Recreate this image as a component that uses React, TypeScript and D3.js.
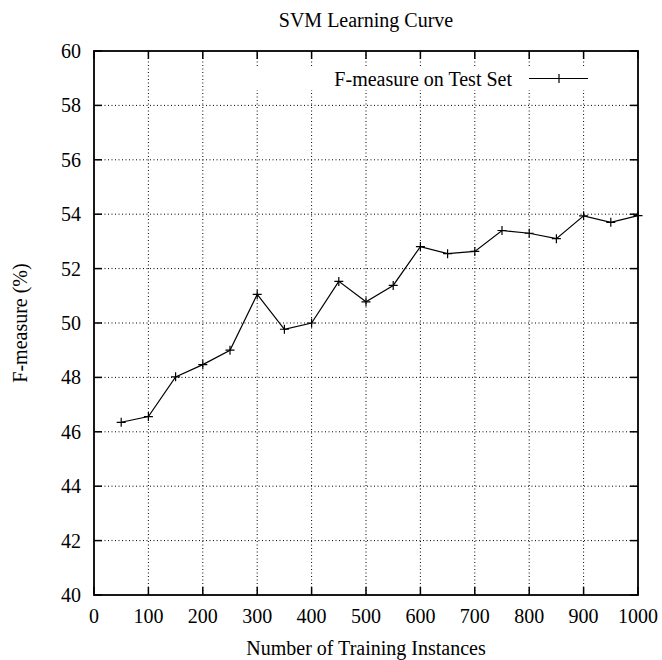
import React, { useEffect, useRef } from "react"
import * as d3 from "d3"

const W = 662
const H = 660
const margin = { top: 51, right: 24, bottom: 65, left: 94 }

// training set size vs F-measure
const trainingSizes = [50, 100, 150, 200, 250, 300, 350, 400, 450, 500, 550, 600, 650, 700, 750, 800, 850, 900, 950, 1000]
const fMeasure = [46.35, 46.56, 48.02, 48.47, 49.0, 51.05, 49.77, 50.0, 51.53, 50.78, 51.38, 52.81, 52.55, 52.63, 53.4, 53.3, 53.1, 53.94, 53.7, 53.95]

const xTicks = [0, 100, 200, 300, 400, 500, 600, 700, 800, 900, 1000]
const yTicks = [40, 42, 44, 46, 48, 50, 52, 54, 56, 58, 60]

const title = "SVM Learning Curve"
const xLabel = "Number of Training Instances"
const yLabel = "F-measure (%)"
const legendLabel = "F-measure on Test Set"

const FONT = "'Liberation Serif', 'Times New Roman', serif"

export default function App() {
  const ref = useRef<SVGSVGElement>(null)

  useEffect(() => {
    const svg = d3.select(ref.current)
    svg.selectAll("*").remove()

    const iw = W - margin.left - margin.right
    const ih = H - margin.top - margin.bottom

    const x = d3.scaleLinear().domain([0, 1000]).range([0, iw])
    const y = d3.scaleLinear().domain([40, 60]).range([ih, 0])

    const g = svg.append("g").attr("transform", `translate(${margin.left},${margin.top})`)

    // dotted grid
    const grid = g.append("g").attr("stroke", "#000").attr("stroke-width", 1).attr("stroke-dasharray", "1,2.5")
    xTicks.slice(1, -1).forEach((t) => {
      grid.append("line").attr("x1", x(t)).attr("x2", x(t)).attr("y1", 0).attr("y2", ih)
    })
    yTicks.slice(1, -1).forEach((t) => {
      grid.append("line").attr("x1", 0).attr("x2", iw).attr("y1", y(t)).attr("y2", y(t))
    })

    // legend box blanks the grid behind it
    g.append("rect")
      .attr("x", 156)
      .attr("y", 16)
      .attr("width", 352)
      .attr("height", 23)
      .attr("fill", "#fff")

    // tick marks, inward on all four sides
    const ticks = g.append("g").attr("stroke", "#000").attr("stroke-width", 1.5)
    const tl = 8
    xTicks.forEach((t) => {
      ticks.append("line").attr("x1", x(t)).attr("x2", x(t)).attr("y1", ih).attr("y2", ih - tl)
      ticks.append("line").attr("x1", x(t)).attr("x2", x(t)).attr("y1", 0).attr("y2", tl)
    })
    yTicks.forEach((t) => {
      ticks.append("line").attr("x1", 0).attr("x2", tl).attr("y1", y(t)).attr("y2", y(t))
      ticks.append("line").attr("x1", iw).attr("x2", iw - tl).attr("y1", y(t)).attr("y2", y(t))
    })

    // frame
    g.append("rect")
      .attr("width", iw)
      .attr("height", ih)
      .attr("fill", "none")
      .attr("stroke", "#000")
      .attr("stroke-width", 1.8)

    // tick labels
    g.selectAll(".xl")
      .data(xTicks)
      .enter()
      .append("text")
      .attr("x", (d) => x(d))
      .attr("y", ih + 28)
      .attr("text-anchor", "middle")
      .attr("font-family", FONT)
      .attr("font-size", 20)
      .text((d) => d)

    g.selectAll(".yl")
      .data(yTicks)
      .enter()
      .append("text")
      .attr("x", -13)
      .attr("y", (d) => y(d) + 7)
      .attr("text-anchor", "end")
      .attr("font-family", FONT)
      .attr("font-size", 20)
      .text((d) => d)

    // data line + markers
    const pts: [number, number][] = trainingSizes.map((s, i) => [s, fMeasure[i]])
    const line = d3
      .line<[number, number]>()
      .x((d) => x(d[0]))
      .y((d) => y(d[1]))
    g.append("path")
      .datum(pts)
      .attr("d", line)
      .attr("fill", "none")
      .attr("stroke", "#000")
      .attr("stroke-width", 1.2)

    const plus = d3.symbol().type(d3.symbolCross)
    const m = 4.5
    pts.forEach((d) => {
      const px = x(d[0])
      const py = y(d[1])
      g.append("path")
        .attr("d", `M${px - m},${py}H${px + m}M${px},${py - m}V${py + m}`)
        .attr("stroke", "#000")
        .attr("stroke-width", 1.2)
    })
    void plus

    // legend
    g.append("text")
      .attr("x", 418)
      .attr("y", 35)
      .attr("text-anchor", "end")
      .attr("font-family", FONT)
      .attr("font-size", 20)
      .text(legendLabel)
    g.append("line")
      .attr("x1", 435)
      .attr("x2", 494)
      .attr("y1", 27.5)
      .attr("y2", 27.5)
      .attr("stroke", "#000")
      .attr("stroke-width", 1.2)
    g.append("path")
      .attr("d", `M${465 - m},27.5H${465 + m}M465,${27.5 - m}V${27.5 + m}`)
      .attr("stroke", "#000")
      .attr("stroke-width", 1.2)

    // titles
    svg.append("text")
      .attr("x", margin.left + iw / 2)
      .attr("y", 27)
      .attr("text-anchor", "middle")
      .attr("font-family", FONT)
      .attr("font-size", 20)
      .text(title)

    svg.append("text")
      .attr("x", margin.left + iw / 2)
      .attr("y", 655)
      .attr("text-anchor", "middle")
      .attr("font-family", FONT)
      .attr("font-size", 20)
      .text(xLabel)

    svg.append("text")
      .attr("transform", `translate(27,${margin.top + ih / 2}) rotate(-90)`)
      .attr("text-anchor", "middle")
      .attr("font-family", FONT)
      .attr("font-size", 20)
      .text(yLabel)
  }, [])

  return (
    <svg
      ref={ref}
      width={W}
      height={H}
      style={{ position: "absolute", left: 0, top: 0, background: "#fff" }}
    />
  )
}
